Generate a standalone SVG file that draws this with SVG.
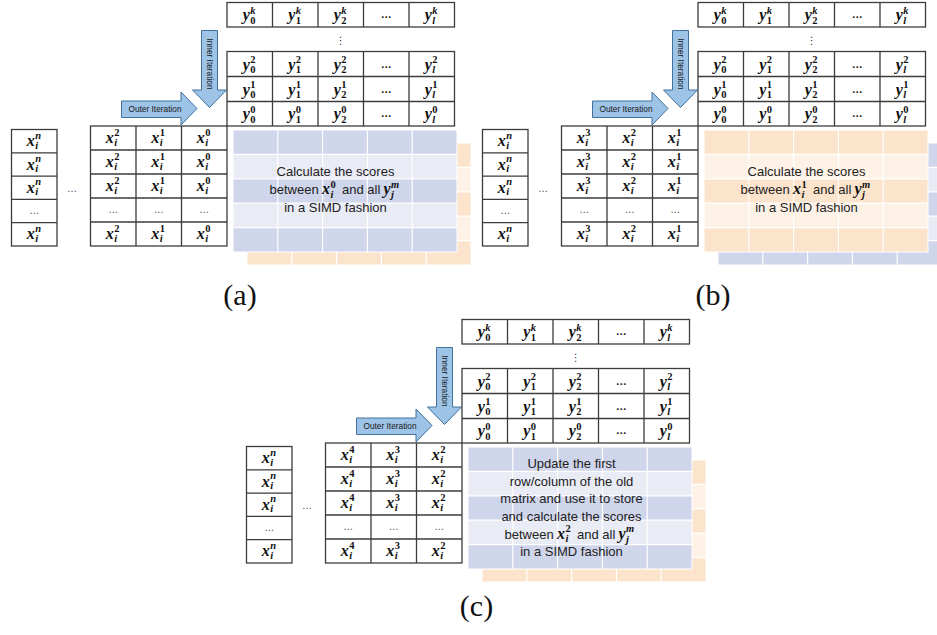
<svg xmlns="http://www.w3.org/2000/svg" xmlns:xlink="http://www.w3.org/1999/xlink" width="937" height="635" viewBox="0 0 937 635">
<style>
.grid{fill:none;stroke:#3c3c3c;stroke-width:1.3}
.m{font-family:"Liberation Serif","DejaVu Serif",serif;font-weight:bold;font-style:italic;font-size:16px;fill:#111}
.s{font-size:10.5px}
.u{font-style:normal}
.t{font-family:"Liberation Sans",Arial,sans-serif;font-size:13px;fill:#222}
.tc{text-anchor:middle}
.dots{font-family:"Liberation Sans",sans-serif;font-size:11px;font-weight:bold;fill:#222;text-anchor:middle}
.dl{font-family:"Liberation Sans",sans-serif;font-size:10px;fill:#444;text-anchor:middle}
.vd{font-family:"DejaVu Sans",sans-serif;font-size:10px;fill:#333;text-anchor:middle}
.arr{fill:#9DC3E6;stroke:#41719C;stroke-width:1}
.al{font-family:"Liberation Sans",Arial,sans-serif;font-size:8.3px;fill:#1a1a1a;text-anchor:middle}
.lab{font-family:"Liberation Serif","Times New Roman",serif;font-size:30px;fill:#111;text-anchor:middle}
</style>
<defs>
<g id="boxB">
<rect width="224" height="122" fill="#E9EBF5"/>
<rect y="0" width="224" height="24.4" fill="#CFD5EA"/>
<rect y="48.8" width="224" height="24.4" fill="#CFD5EA"/>
<rect y="97.6" width="224" height="24.4" fill="#CFD5EA"/>
<path d="M44.8 0V122M89.6 0V122M134.4 0V122M179.2 0V122M0 24.4H224M0 48.8H224M0 73.2H224M0 97.6H224" stroke="#fff" stroke-width="1.2"/>
<rect width="224" height="122" fill="none" stroke="#fff" stroke-width="1"/>
</g>
<g id="boxO">
<rect width="224" height="122" fill="#FEF2E7"/>
<rect y="0" width="224" height="24.4" fill="#FCE3CB"/>
<rect y="48.8" width="224" height="24.4" fill="#FCE3CB"/>
<rect y="97.6" width="224" height="24.4" fill="#FCE3CB"/>
<path d="M44.8 0V122M89.6 0V122M134.4 0V122M179.2 0V122M0 24.4H224M0 48.8H224M0 73.2H224M0 97.6H224" stroke="#fff" stroke-width="1.2"/>
<rect width="224" height="122" fill="none" stroke="#fff" stroke-width="1"/>
</g>
</defs>

<!-- ================= PANEL A ================= -->
<g id="panel-a">
<g id="a-scores">
<use href="#boxO" x="247" y="143"/>
<use href="#boxB" x="233" y="130"/>
<text class="t tc" x="335.5" y="176">Calculate the scores</text>
<text class="t"><tspan x="269.5" y="194">between</tspan><tspan class="m" x="322" y="194">x</tspan><tspan class="m s u" x="330.5" y="187.5">0</tspan><tspan class="m s" x="330.5" y="197.5">i</tspan><tspan x="342" y="194">and all</tspan><tspan class="m" x="383.5" y="194">y</tspan><tspan class="m s" x="391" y="187.5">m</tspan><tspan class="m s" x="391" y="198">j</tspan></text>
<text class="t tc" x="335.5" y="212">in a SIMD fashion</text>
</g>
<g id="a-ytable">
<rect class="grid" x="227" y="2.5" width="227.5" height="24.5"/>
<path class="grid" d="M272.5 2.5V27M318 2.5V27M363.5 2.5V27M409 2.5V27"/>
<text class="vd" x="340.75" y="44">⋮</text>
<rect class="grid" x="227" y="51.5" width="227.5" height="74.5"/>
<path class="grid" d="M227 76.5H454.5M227 101.5H454.5M272.5 51.5V126M318 51.5V126M363.5 51.5V126M409 51.5V126"/>
<text class="m"><tspan x="242.75" y="20.25">y</tspan><tspan class="s" x="250.25" y="13.75">k</tspan><tspan class="s u" x="250.25" y="23.75">0</tspan></text>
<text class="m"><tspan x="288.25" y="20.25">y</tspan><tspan class="s" x="295.75" y="13.75">k</tspan><tspan class="s u" x="295.75" y="23.75">1</tspan></text>
<text class="m"><tspan x="333.75" y="20.25">y</tspan><tspan class="s" x="341.25" y="13.75">k</tspan><tspan class="s u" x="341.25" y="23.75">2</tspan></text>
<text class="dots" x="386.25" y="18">…</text>
<text class="m"><tspan x="424.75" y="20.25">y</tspan><tspan class="s" x="432.25" y="13.75">k</tspan><tspan class="s" x="432.25" y="23.75">l</tspan></text>
<text class="m"><tspan x="242.75" y="69.5">y</tspan><tspan class="s u" x="250.25" y="63">2</tspan><tspan class="s u" x="250.25" y="73">0</tspan></text>
<text class="m"><tspan x="288.25" y="69.5">y</tspan><tspan class="s u" x="295.75" y="63">2</tspan><tspan class="s u" x="295.75" y="73">1</tspan></text>
<text class="m"><tspan x="333.75" y="69.5">y</tspan><tspan class="s u" x="341.25" y="63">2</tspan><tspan class="s u" x="341.25" y="73">2</tspan></text>
<text class="dots" x="386.25" y="67.5">…</text>
<text class="m"><tspan x="424.75" y="69.5">y</tspan><tspan class="s u" x="432.25" y="63">2</tspan><tspan class="s" x="432.25" y="73">l</tspan></text>
<text class="m"><tspan x="242.75" y="94.5">y</tspan><tspan class="s u" x="250.25" y="88">1</tspan><tspan class="s u" x="250.25" y="98">0</tspan></text>
<text class="m"><tspan x="288.25" y="94.5">y</tspan><tspan class="s u" x="295.75" y="88">1</tspan><tspan class="s u" x="295.75" y="98">1</tspan></text>
<text class="m"><tspan x="333.75" y="94.5">y</tspan><tspan class="s u" x="341.25" y="88">1</tspan><tspan class="s u" x="341.25" y="98">2</tspan></text>
<text class="dots" x="386.25" y="92.5">…</text>
<text class="m"><tspan x="424.75" y="94.5">y</tspan><tspan class="s u" x="432.25" y="88">1</tspan><tspan class="s" x="432.25" y="98">l</tspan></text>
<text class="m"><tspan x="242.75" y="119.25">y</tspan><tspan class="s u" x="250.25" y="112.75">0</tspan><tspan class="s u" x="250.25" y="122.75">0</tspan></text>
<text class="m"><tspan x="288.25" y="119.25">y</tspan><tspan class="s u" x="295.75" y="112.75">0</tspan><tspan class="s u" x="295.75" y="122.75">1</tspan></text>
<text class="m"><tspan x="333.75" y="119.25">y</tspan><tspan class="s u" x="341.25" y="112.75">0</tspan><tspan class="s u" x="341.25" y="122.75">2</tspan></text>
<text class="dots" x="386.25" y="117.25">…</text>
<text class="m"><tspan x="424.75" y="119.25">y</tspan><tspan class="s u" x="432.25" y="112.75">0</tspan><tspan class="s" x="432.25" y="122.75">l</tspan></text>
</g>
<g id="a-xleft">
<rect class="grid" x="11.5" y="129.5" width="45.5" height="116.5"/>
<path class="grid" d="M11.5 152.8H57M11.5 176.1H57M11.5 199.4H57M11.5 222.7H57"/>
<text class="m"><tspan x="26.75" y="146.2">x</tspan><tspan class="s" x="35.25" y="138.7">n</tspan><tspan class="s" x="35.25" y="148.7">i</tspan></text>
<text class="m"><tspan x="26.75" y="169.5">x</tspan><tspan class="s" x="35.25" y="162">n</tspan><tspan class="s" x="35.25" y="172">i</tspan></text>
<text class="m"><tspan x="26.75" y="192.8">x</tspan><tspan class="s" x="35.25" y="185.3">n</tspan><tspan class="s" x="35.25" y="195.3">i</tspan></text>
<text class="dl" x="34.25" y="214">…</text>
<text class="m"><tspan x="26.75" y="239.3">x</tspan><tspan class="s" x="35.25" y="231.8">n</tspan><tspan class="s" x="35.25" y="241.8">i</tspan></text>
<text class="dl" x="72" y="192">…</text>
</g>
<g id="a-xmid">
<rect class="grid" x="90.5" y="126" width="136.5" height="120"/>
<path class="grid" d="M90.5 150H227M90.5 174H227M90.5 198H227M90.5 222H227M136 126V246M181.5 126V246"/>
<text class="m"><tspan x="105.75" y="143">x</tspan><tspan class="s u" x="114.25" y="135.5">2</tspan><tspan class="s" x="114.25" y="145.5">i</tspan></text>
<text class="m"><tspan x="151.25" y="143">x</tspan><tspan class="s u" x="159.75" y="135.5">1</tspan><tspan class="s" x="159.75" y="145.5">i</tspan></text>
<text class="m"><tspan x="196.75" y="143">x</tspan><tspan class="s u" x="205.25" y="135.5">0</tspan><tspan class="s" x="205.25" y="145.5">i</tspan></text>
<text class="m"><tspan x="105.75" y="167">x</tspan><tspan class="s u" x="114.25" y="159.5">2</tspan><tspan class="s" x="114.25" y="169.5">i</tspan></text>
<text class="m"><tspan x="151.25" y="167">x</tspan><tspan class="s u" x="159.75" y="159.5">1</tspan><tspan class="s" x="159.75" y="169.5">i</tspan></text>
<text class="m"><tspan x="196.75" y="167">x</tspan><tspan class="s u" x="205.25" y="159.5">0</tspan><tspan class="s" x="205.25" y="169.5">i</tspan></text>
<text class="m"><tspan x="105.75" y="191">x</tspan><tspan class="s u" x="114.25" y="183.5">2</tspan><tspan class="s" x="114.25" y="193.5">i</tspan></text>
<text class="m"><tspan x="151.25" y="191">x</tspan><tspan class="s u" x="159.75" y="183.5">1</tspan><tspan class="s" x="159.75" y="193.5">i</tspan></text>
<text class="m"><tspan x="196.75" y="191">x</tspan><tspan class="s u" x="205.25" y="183.5">0</tspan><tspan class="s" x="205.25" y="193.5">i</tspan></text>
<text class="dl" x="113.25" y="213">…</text>
<text class="dl" x="158.75" y="213">…</text>
<text class="dl" x="204.25" y="213">…</text>
<text class="m"><tspan x="105.75" y="239">x</tspan><tspan class="s u" x="114.25" y="231.5">2</tspan><tspan class="s" x="114.25" y="241.5">i</tspan></text>
<text class="m"><tspan x="151.25" y="239">x</tspan><tspan class="s u" x="159.75" y="231.5">1</tspan><tspan class="s" x="159.75" y="241.5">i</tspan></text>
<text class="m"><tspan x="196.75" y="239">x</tspan><tspan class="s u" x="205.25" y="231.5">0</tspan><tspan class="s" x="205.25" y="241.5">i</tspan></text>
</g>
<g id="a-arrows">
<polygon class="arr" points="121.5,101 181,101 181,92 197,108.5 181,125 181,117.5 121.5,117.5"/>
<text class="al" x="155" y="112">Outer Iteration</text>
<polygon class="arr" points="201.5,30.5 217.5,30.5 217.5,90 226.5,90 209.5,107.5 192.5,90 201.5,90"/>
<text class="al" x="0" y="3" transform="translate(209.5,64) rotate(90)">Inner Iteration</text>
</g>
<text class="lab" x="240" y="305">(a)</text>
</g>

<!-- ================= PANEL B ================= -->
<g id="panel-b" transform="translate(471,0)">
<g id="b-scores">
<use href="#boxB" x="247" y="143"/>
<use href="#boxO" x="233" y="130"/>
<text class="t tc" x="335.5" y="176">Calculate the scores</text>
<text class="t"><tspan x="269.5" y="194">between</tspan><tspan class="m" x="322" y="194">x</tspan><tspan class="m s u" x="330.5" y="187.5">1</tspan><tspan class="m s" x="330.5" y="197.5">i</tspan><tspan x="342" y="194">and all</tspan><tspan class="m" x="383.5" y="194">y</tspan><tspan class="m s" x="391" y="187.5">m</tspan><tspan class="m s" x="391" y="198">j</tspan></text>
<text class="t tc" x="335.5" y="212">in a SIMD fashion</text>
</g>
<g id="b-ytable">
<rect class="grid" x="227" y="2.5" width="227.5" height="24.5"/>
<path class="grid" d="M272.5 2.5V27M318 2.5V27M363.5 2.5V27M409 2.5V27"/>
<text class="vd" x="340.75" y="44">⋮</text>
<rect class="grid" x="227" y="51.5" width="227.5" height="74.5"/>
<path class="grid" d="M227 76.5H454.5M227 101.5H454.5M272.5 51.5V126M318 51.5V126M363.5 51.5V126M409 51.5V126"/>
<text class="m"><tspan x="242.75" y="20.25">y</tspan><tspan class="s" x="250.25" y="13.75">k</tspan><tspan class="s u" x="250.25" y="23.75">0</tspan></text>
<text class="m"><tspan x="288.25" y="20.25">y</tspan><tspan class="s" x="295.75" y="13.75">k</tspan><tspan class="s u" x="295.75" y="23.75">1</tspan></text>
<text class="m"><tspan x="333.75" y="20.25">y</tspan><tspan class="s" x="341.25" y="13.75">k</tspan><tspan class="s u" x="341.25" y="23.75">2</tspan></text>
<text class="dots" x="386.25" y="18">…</text>
<text class="m"><tspan x="424.75" y="20.25">y</tspan><tspan class="s" x="432.25" y="13.75">k</tspan><tspan class="s" x="432.25" y="23.75">l</tspan></text>
<text class="m"><tspan x="242.75" y="69.5">y</tspan><tspan class="s u" x="250.25" y="63">2</tspan><tspan class="s u" x="250.25" y="73">0</tspan></text>
<text class="m"><tspan x="288.25" y="69.5">y</tspan><tspan class="s u" x="295.75" y="63">2</tspan><tspan class="s u" x="295.75" y="73">1</tspan></text>
<text class="m"><tspan x="333.75" y="69.5">y</tspan><tspan class="s u" x="341.25" y="63">2</tspan><tspan class="s u" x="341.25" y="73">2</tspan></text>
<text class="dots" x="386.25" y="67.5">…</text>
<text class="m"><tspan x="424.75" y="69.5">y</tspan><tspan class="s u" x="432.25" y="63">2</tspan><tspan class="s" x="432.25" y="73">l</tspan></text>
<text class="m"><tspan x="242.75" y="94.5">y</tspan><tspan class="s u" x="250.25" y="88">1</tspan><tspan class="s u" x="250.25" y="98">0</tspan></text>
<text class="m"><tspan x="288.25" y="94.5">y</tspan><tspan class="s u" x="295.75" y="88">1</tspan><tspan class="s u" x="295.75" y="98">1</tspan></text>
<text class="m"><tspan x="333.75" y="94.5">y</tspan><tspan class="s u" x="341.25" y="88">1</tspan><tspan class="s u" x="341.25" y="98">2</tspan></text>
<text class="dots" x="386.25" y="92.5">…</text>
<text class="m"><tspan x="424.75" y="94.5">y</tspan><tspan class="s u" x="432.25" y="88">1</tspan><tspan class="s" x="432.25" y="98">l</tspan></text>
<text class="m"><tspan x="242.75" y="119.25">y</tspan><tspan class="s u" x="250.25" y="112.75">0</tspan><tspan class="s u" x="250.25" y="122.75">0</tspan></text>
<text class="m"><tspan x="288.25" y="119.25">y</tspan><tspan class="s u" x="295.75" y="112.75">0</tspan><tspan class="s u" x="295.75" y="122.75">1</tspan></text>
<text class="m"><tspan x="333.75" y="119.25">y</tspan><tspan class="s u" x="341.25" y="112.75">0</tspan><tspan class="s u" x="341.25" y="122.75">2</tspan></text>
<text class="dots" x="386.25" y="117.25">…</text>
<text class="m"><tspan x="424.75" y="119.25">y</tspan><tspan class="s u" x="432.25" y="112.75">0</tspan><tspan class="s" x="432.25" y="122.75">l</tspan></text>
</g>
<g id="b-xleft">
<rect class="grid" x="11.5" y="129.5" width="45.5" height="116.5"/>
<path class="grid" d="M11.5 152.8H57M11.5 176.1H57M11.5 199.4H57M11.5 222.7H57"/>
<text class="m"><tspan x="26.75" y="146.2">x</tspan><tspan class="s" x="35.25" y="138.7">n</tspan><tspan class="s" x="35.25" y="148.7">i</tspan></text>
<text class="m"><tspan x="26.75" y="169.5">x</tspan><tspan class="s" x="35.25" y="162">n</tspan><tspan class="s" x="35.25" y="172">i</tspan></text>
<text class="m"><tspan x="26.75" y="192.8">x</tspan><tspan class="s" x="35.25" y="185.3">n</tspan><tspan class="s" x="35.25" y="195.3">i</tspan></text>
<text class="dl" x="34.25" y="214">…</text>
<text class="m"><tspan x="26.75" y="239.3">x</tspan><tspan class="s" x="35.25" y="231.8">n</tspan><tspan class="s" x="35.25" y="241.8">i</tspan></text>
<text class="dl" x="72" y="192">…</text>
</g>
<g id="b-xmid">
<rect class="grid" x="90.5" y="126" width="136.5" height="120"/>
<path class="grid" d="M90.5 150H227M90.5 174H227M90.5 198H227M90.5 222H227M136 126V246M181.5 126V246"/>
<text class="m"><tspan x="105.75" y="143">x</tspan><tspan class="s u" x="114.25" y="135.5">3</tspan><tspan class="s" x="114.25" y="145.5">i</tspan></text>
<text class="m"><tspan x="151.25" y="143">x</tspan><tspan class="s u" x="159.75" y="135.5">2</tspan><tspan class="s" x="159.75" y="145.5">i</tspan></text>
<text class="m"><tspan x="196.75" y="143">x</tspan><tspan class="s u" x="205.25" y="135.5">1</tspan><tspan class="s" x="205.25" y="145.5">i</tspan></text>
<text class="m"><tspan x="105.75" y="167">x</tspan><tspan class="s u" x="114.25" y="159.5">3</tspan><tspan class="s" x="114.25" y="169.5">i</tspan></text>
<text class="m"><tspan x="151.25" y="167">x</tspan><tspan class="s u" x="159.75" y="159.5">2</tspan><tspan class="s" x="159.75" y="169.5">i</tspan></text>
<text class="m"><tspan x="196.75" y="167">x</tspan><tspan class="s u" x="205.25" y="159.5">1</tspan><tspan class="s" x="205.25" y="169.5">i</tspan></text>
<text class="m"><tspan x="105.75" y="191">x</tspan><tspan class="s u" x="114.25" y="183.5">3</tspan><tspan class="s" x="114.25" y="193.5">i</tspan></text>
<text class="m"><tspan x="151.25" y="191">x</tspan><tspan class="s u" x="159.75" y="183.5">2</tspan><tspan class="s" x="159.75" y="193.5">i</tspan></text>
<text class="m"><tspan x="196.75" y="191">x</tspan><tspan class="s u" x="205.25" y="183.5">1</tspan><tspan class="s" x="205.25" y="193.5">i</tspan></text>
<text class="dl" x="113.25" y="213">…</text>
<text class="dl" x="158.75" y="213">…</text>
<text class="dl" x="204.25" y="213">…</text>
<text class="m"><tspan x="105.75" y="239">x</tspan><tspan class="s u" x="114.25" y="231.5">3</tspan><tspan class="s" x="114.25" y="241.5">i</tspan></text>
<text class="m"><tspan x="151.25" y="239">x</tspan><tspan class="s u" x="159.75" y="231.5">2</tspan><tspan class="s" x="159.75" y="241.5">i</tspan></text>
<text class="m"><tspan x="196.75" y="239">x</tspan><tspan class="s u" x="205.25" y="231.5">1</tspan><tspan class="s" x="205.25" y="241.5">i</tspan></text>
</g>
<g id="b-arrows">
<polygon class="arr" points="121.5,101 181,101 181,92 197,108.5 181,125 181,117.5 121.5,117.5"/>
<text class="al" x="155" y="112">Outer Iteration</text>
<polygon class="arr" points="201.5,30.5 217.5,30.5 217.5,90 226.5,90 209.5,107.5 192.5,90 201.5,90"/>
<text class="al" x="0" y="3" transform="translate(209.5,64) rotate(90)">Inner Iteration</text>
</g>
<text class="lab" x="242" y="305">(b)</text>
</g>

<!-- ================= PANEL C ================= -->
<g id="panel-c" transform="translate(235,317)">
<g id="c-scores">
<use href="#boxO" x="247" y="143"/>
<use href="#boxB" x="233" y="130"/>
<text class="t tc" x="336.5" y="151">Update the first</text>
<text class="t tc" x="336.5" y="168.5">row/column of the old</text>
<text class="t tc" x="336.5" y="186">matrix and use it to store</text>
<text class="t tc" x="336.5" y="203.5">and calculate the scores</text>
<text class="t"><tspan x="269.5" y="221.5">between</tspan><tspan class="m" x="322" y="221.5">x</tspan><tspan class="m s u" x="330.5" y="215">2</tspan><tspan class="m s" x="330.5" y="225">i</tspan><tspan x="342" y="221.5">and all</tspan><tspan class="m" x="383.5" y="221.5">y</tspan><tspan class="m s" x="391" y="215">m</tspan><tspan class="m s" x="391" y="225.5">j</tspan></text>
<text class="t tc" x="336.5" y="239">in a SIMD fashion</text>
</g>
<g id="c-ytable">
<rect class="grid" x="227" y="2.5" width="227.5" height="24.5"/>
<path class="grid" d="M272.5 2.5V27M318 2.5V27M363.5 2.5V27M409 2.5V27"/>
<text class="vd" x="340.75" y="44">⋮</text>
<rect class="grid" x="227" y="51.5" width="227.5" height="74.5"/>
<path class="grid" d="M227 76.5H454.5M227 101.5H454.5M272.5 51.5V126M318 51.5V126M363.5 51.5V126M409 51.5V126"/>
<text class="m"><tspan x="242.75" y="20.25">y</tspan><tspan class="s" x="250.25" y="13.75">k</tspan><tspan class="s u" x="250.25" y="23.75">0</tspan></text>
<text class="m"><tspan x="288.25" y="20.25">y</tspan><tspan class="s" x="295.75" y="13.75">k</tspan><tspan class="s u" x="295.75" y="23.75">1</tspan></text>
<text class="m"><tspan x="333.75" y="20.25">y</tspan><tspan class="s" x="341.25" y="13.75">k</tspan><tspan class="s u" x="341.25" y="23.75">2</tspan></text>
<text class="dots" x="386.25" y="18">…</text>
<text class="m"><tspan x="424.75" y="20.25">y</tspan><tspan class="s" x="432.25" y="13.75">k</tspan><tspan class="s" x="432.25" y="23.75">l</tspan></text>
<text class="m"><tspan x="242.75" y="69.5">y</tspan><tspan class="s u" x="250.25" y="63">2</tspan><tspan class="s u" x="250.25" y="73">0</tspan></text>
<text class="m"><tspan x="288.25" y="69.5">y</tspan><tspan class="s u" x="295.75" y="63">2</tspan><tspan class="s u" x="295.75" y="73">1</tspan></text>
<text class="m"><tspan x="333.75" y="69.5">y</tspan><tspan class="s u" x="341.25" y="63">2</tspan><tspan class="s u" x="341.25" y="73">2</tspan></text>
<text class="dots" x="386.25" y="67.5">…</text>
<text class="m"><tspan x="424.75" y="69.5">y</tspan><tspan class="s u" x="432.25" y="63">2</tspan><tspan class="s" x="432.25" y="73">l</tspan></text>
<text class="m"><tspan x="242.75" y="94.5">y</tspan><tspan class="s u" x="250.25" y="88">1</tspan><tspan class="s u" x="250.25" y="98">0</tspan></text>
<text class="m"><tspan x="288.25" y="94.5">y</tspan><tspan class="s u" x="295.75" y="88">1</tspan><tspan class="s u" x="295.75" y="98">1</tspan></text>
<text class="m"><tspan x="333.75" y="94.5">y</tspan><tspan class="s u" x="341.25" y="88">1</tspan><tspan class="s u" x="341.25" y="98">2</tspan></text>
<text class="dots" x="386.25" y="92.5">…</text>
<text class="m"><tspan x="424.75" y="94.5">y</tspan><tspan class="s u" x="432.25" y="88">1</tspan><tspan class="s" x="432.25" y="98">l</tspan></text>
<text class="m"><tspan x="242.75" y="119.25">y</tspan><tspan class="s u" x="250.25" y="112.75">0</tspan><tspan class="s u" x="250.25" y="122.75">0</tspan></text>
<text class="m"><tspan x="288.25" y="119.25">y</tspan><tspan class="s u" x="295.75" y="112.75">0</tspan><tspan class="s u" x="295.75" y="122.75">1</tspan></text>
<text class="m"><tspan x="333.75" y="119.25">y</tspan><tspan class="s u" x="341.25" y="112.75">0</tspan><tspan class="s u" x="341.25" y="122.75">2</tspan></text>
<text class="dots" x="386.25" y="117.25">…</text>
<text class="m"><tspan x="424.75" y="119.25">y</tspan><tspan class="s u" x="432.25" y="112.75">0</tspan><tspan class="s" x="432.25" y="122.75">l</tspan></text>
</g>
<g id="c-xleft">
<rect class="grid" x="11.5" y="129.5" width="45.5" height="116.5"/>
<path class="grid" d="M11.5 152.8H57M11.5 176.1H57M11.5 199.4H57M11.5 222.7H57"/>
<text class="m"><tspan x="26.75" y="146.2">x</tspan><tspan class="s" x="35.25" y="138.7">n</tspan><tspan class="s" x="35.25" y="148.7">i</tspan></text>
<text class="m"><tspan x="26.75" y="169.5">x</tspan><tspan class="s" x="35.25" y="162">n</tspan><tspan class="s" x="35.25" y="172">i</tspan></text>
<text class="m"><tspan x="26.75" y="192.8">x</tspan><tspan class="s" x="35.25" y="185.3">n</tspan><tspan class="s" x="35.25" y="195.3">i</tspan></text>
<text class="dl" x="34.25" y="214">…</text>
<text class="m"><tspan x="26.75" y="239.3">x</tspan><tspan class="s" x="35.25" y="231.8">n</tspan><tspan class="s" x="35.25" y="241.8">i</tspan></text>
<text class="dl" x="72" y="192">…</text>
</g>
<g id="c-xmid">
<rect class="grid" x="90.5" y="126" width="136.5" height="120"/>
<path class="grid" d="M90.5 150H227M90.5 174H227M90.5 198H227M90.5 222H227M136 126V246M181.5 126V246"/>
<text class="m"><tspan x="105.75" y="143">x</tspan><tspan class="s u" x="114.25" y="135.5">4</tspan><tspan class="s" x="114.25" y="145.5">i</tspan></text>
<text class="m"><tspan x="151.25" y="143">x</tspan><tspan class="s u" x="159.75" y="135.5">3</tspan><tspan class="s" x="159.75" y="145.5">i</tspan></text>
<text class="m"><tspan x="196.75" y="143">x</tspan><tspan class="s u" x="205.25" y="135.5">2</tspan><tspan class="s" x="205.25" y="145.5">i</tspan></text>
<text class="m"><tspan x="105.75" y="167">x</tspan><tspan class="s u" x="114.25" y="159.5">4</tspan><tspan class="s" x="114.25" y="169.5">i</tspan></text>
<text class="m"><tspan x="151.25" y="167">x</tspan><tspan class="s u" x="159.75" y="159.5">3</tspan><tspan class="s" x="159.75" y="169.5">i</tspan></text>
<text class="m"><tspan x="196.75" y="167">x</tspan><tspan class="s u" x="205.25" y="159.5">2</tspan><tspan class="s" x="205.25" y="169.5">i</tspan></text>
<text class="m"><tspan x="105.75" y="191">x</tspan><tspan class="s u" x="114.25" y="183.5">4</tspan><tspan class="s" x="114.25" y="193.5">i</tspan></text>
<text class="m"><tspan x="151.25" y="191">x</tspan><tspan class="s u" x="159.75" y="183.5">3</tspan><tspan class="s" x="159.75" y="193.5">i</tspan></text>
<text class="m"><tspan x="196.75" y="191">x</tspan><tspan class="s u" x="205.25" y="183.5">2</tspan><tspan class="s" x="205.25" y="193.5">i</tspan></text>
<text class="dl" x="113.25" y="213">…</text>
<text class="dl" x="158.75" y="213">…</text>
<text class="dl" x="204.25" y="213">…</text>
<text class="m"><tspan x="105.75" y="239">x</tspan><tspan class="s u" x="114.25" y="231.5">4</tspan><tspan class="s" x="114.25" y="241.5">i</tspan></text>
<text class="m"><tspan x="151.25" y="239">x</tspan><tspan class="s u" x="159.75" y="231.5">3</tspan><tspan class="s" x="159.75" y="241.5">i</tspan></text>
<text class="m"><tspan x="196.75" y="239">x</tspan><tspan class="s u" x="205.25" y="231.5">2</tspan><tspan class="s" x="205.25" y="241.5">i</tspan></text>
</g>
<g id="c-arrows">
<polygon class="arr" points="121.5,101 181,101 181,92 197,108.5 181,125 181,117.5 121.5,117.5"/>
<text class="al" x="155" y="112">Outer Iteration</text>
<polygon class="arr" points="201.5,30.5 217.5,30.5 217.5,90 226.5,90 209.5,107.5 192.5,90 201.5,90"/>
<text class="al" x="0" y="3" transform="translate(209.5,64) rotate(90)">Inner Iteration</text>
</g>
<text class="lab" x="241.5" y="299">(c)</text>
</g>
</svg>
